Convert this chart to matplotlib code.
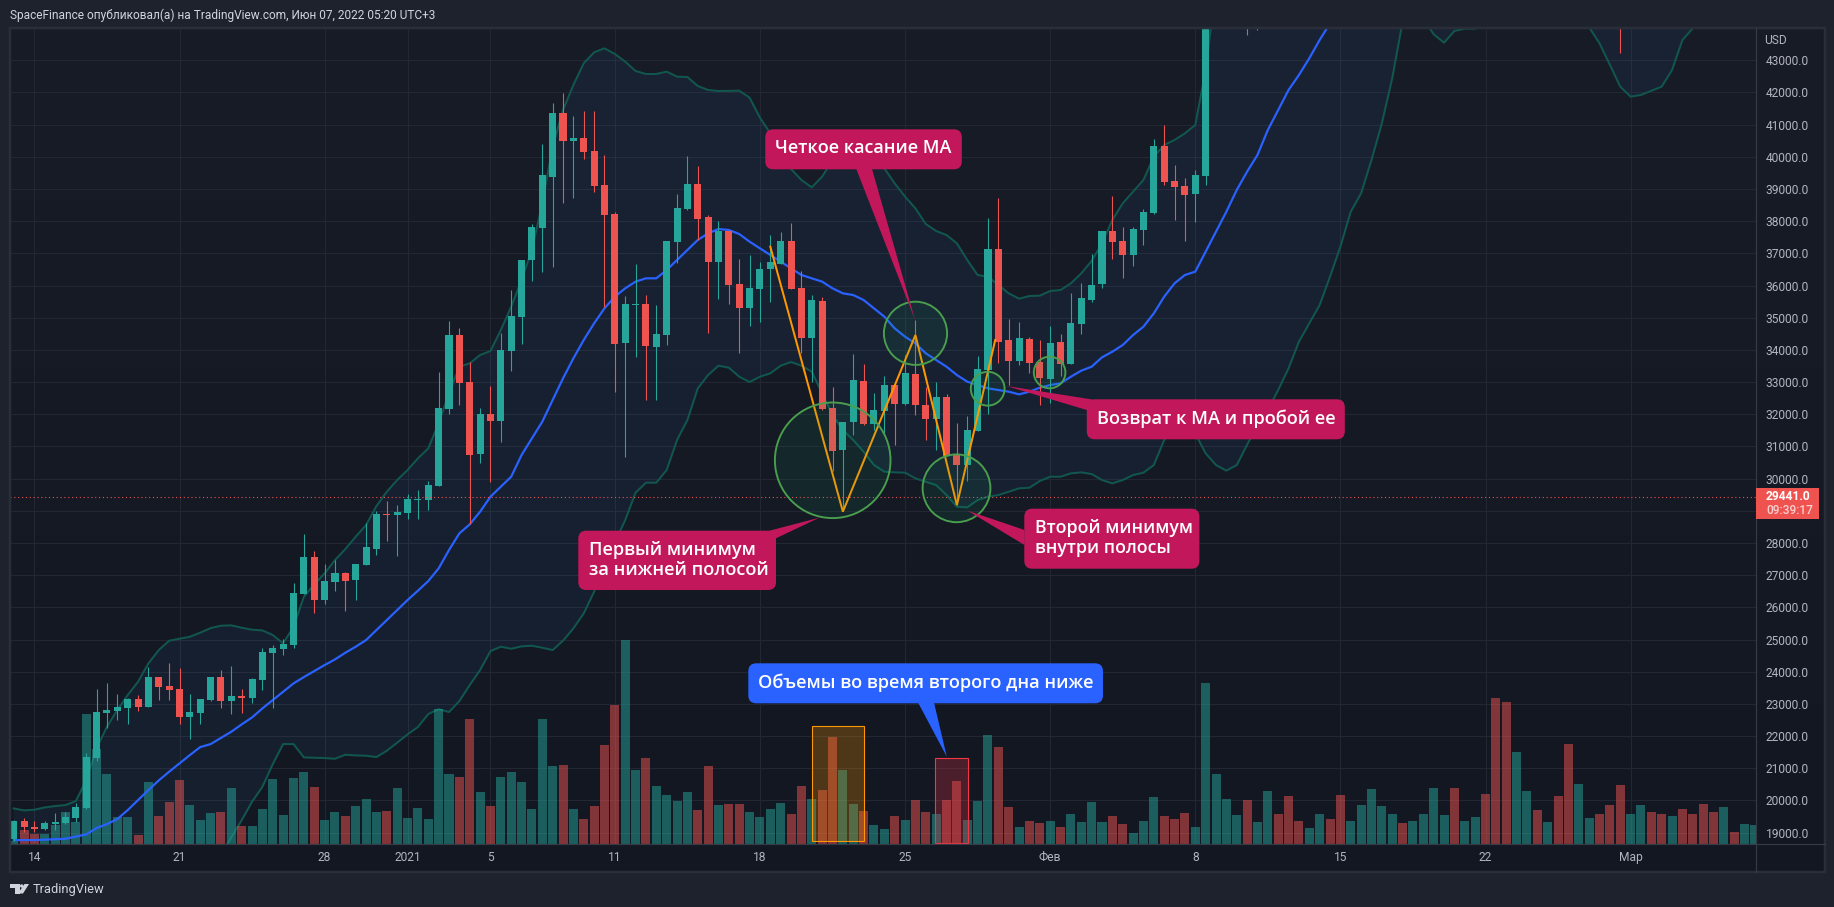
import numpy as np
import matplotlib
matplotlib.use("Agg")
import matplotlib.pyplot as plt
from matplotlib.patches import Circle, FancyBboxPatch, Polygon, Rectangle
from matplotlib.transforms import blended_transform_factory
from matplotlib.colors import to_rgba

W, H = 1834, 907
FONT = "Roboto"
LABEL_FONT = ["Open Sans", "Noto Sans"]

# ---------- data: 12h candles, bar 0 = 14 Dec 2020, first visible bar = -2
first_bar = -2
opens = [18790,19350,19190,19100,19275,19286,19452,19752,21316,22715,22777,22870,23150,22901,23823,23554,23461,22591,
         22715,23119,23823,23088,23243,23181,23741,24580,24704,24828,26413,27563,26227,26786,27066,26849,27315,27812,
         28900,28869,28931,29335,29335,29770,32163,34463,33002,30765,32008,31790,33966,35023,36794,37789,39374,41363,
         40493,40586,40182,39125,38224,34215,35396,35427,34090,34463,37354,38379,39156,38131,36732,37695,36048,35302,
         35893,36515,36670,37385,35924,34370,35520,32194,30889,31759,33034,31697,32101,32909,32319,33251,32288,31853,
         32536,30734,30423,31479,33375,37136,34308,33655,34339,33624,33096,34246,33562,34805,35551,36048,37695,37385,
         36950,37727,38255,40337,39250,39094,38845,39405]
closes = [19350,19170,19110,19286,19317,19472,19783,21337,22746,22798,22891,23150,22901,23823,23523,23430,22591,22746,
          23150,23823,23088,23243,23181,23772,24611,24735,24859,26445,27563,26227,26817,27066,26817,27346,27874,28900,
          28869,28962,29366,29366,29801,32194,34463,32971,30734,32008,31790,33997,35054,36794,37820,39436,41363,40493,
          40586,40151,39094,38193,34184,35427,35427,34121,34494,37385,38410,39156,38068,36732,37695,36017,35302,35924,
          36515,36732,37385,35893,34370,35551,32163,30858,31759,33065,31697,32132,32909,32319,33282,32288,31853,32536,
          30703,30423,31511,33407,37136,34246,33655,34370,33593,33127,34215,33562,34836,35613,36017,37695,37354,36950,
          37758,38286,40337,39218,39063,38814,39436,46000]
highs = [19390,19440,19348,19348,19597,19638,19907,21461,23461,23637,23305,23181,23274,24134,23823,24269,24103,23305,
         23150,23823,24051,24176,23461,23803,24735,24828,25004,26755,28278,27750,27346,27470,27097,27346,28620,28993,
         29304,29180,29522,29646,29925,33313,34898,34681,33624,32194,32878,34525,35862,36794,37913,40399,41674,41985,
         41270,41425,41425,40058,38286,35675,36670,35706,35396,37385,38845,40027,39716,38193,38006,37727,36825,36950,
         36732,37571,37664,37944,36452,35706,35644,32847,31759,33873,33562,32661,33189,32909,33842,34929,32847,33002,
         32630,31728,31946,33810,38100,38721,34960,34867,34401,34308,34743,34494,35769,36079,36981,37695,38783,37820,
         37820,38379,40555,40990,39747,39343,39591,46500]
lows = [18750,19030,19027,19079,19079,19265,19317,19721,21223,22249,22497,22373,22777,22901,23119,23119,22373,21907,
        22373,23088,22870,22684,22715,23026,23430,22870,24518,24735,26413,25823,26103,26507,25885,26227,27315,27626,
        28061,27594,28744,28744,29024,29770,32008,32288,28579,30495,29905,31137,33344,34184,36142,36421,36577,38566,
        38721,39933,38908,35344,32692,30671,33779,32443,32443,34152,36701,38348,37416,34525,35582,35427,33904,34743,
        34867,35489,36670,35893,33904,33002,32132,30236,29024,31355,31666,31511,31407,31044,32288,31977,31200,30889,
        30703,29180,29926,31479,32008,33593,32909,33531,33282,32288,32350,33189,33562,34494,35489,35924,36825,36235,
        36608,37260,38224,39125,38037,37385,37975,39125]

# wicks of bars whose bodies are above the visible range
off_bars = [117, 118, 152, 153]
off_lows = [43787, 43940, 43995, 43218]
off_dirs = "rgrr"

volumes = [11,43,31,31,58,97,67,391,286,211,
           82,82,28,187,85,127,193,118,73,94,
           97,169,55,55,106,196,88,199,217,172,
           73,97,85,115,136,97,100,169,79,109,
           76,406,211,202,376,157,115,202,217,187,
           106,376,235,238,106,76,115,298,418,613,
           223,259,175,148,130,157,103,235,118,121,
           121,97,82,106,124,91,175,136,163,322,
           223,121,100,58,46,85,73,133,97,91,
           133,190,73,130,328,292,112,52,70,64,
           70,52,91,67,127,67,85,61,34,70,
           142,85,76,94,52,484,211,136,88,133,
           67,160,91,145,70,49,91,76,148,70,
           118,166,115,91,64,70,91,169,88,169,
           70,82,151,439,427,277,160,103,67,145,
           301,181,79,91,118,178,91,118,97,91,
           85,106,91,121,97,112,37,61,58]
VOL_SCALE_MAX = 2449
vol_dirs = ("grrggggggg" "ggrgrrrggg" "rgrggggggr" "ggrgggrggg" "gggrrgrggg" "gggrgrrrrg"
            "grggggrrgr" "rggggrrgrr" "ggrggrgrrg" "rrgggrrgrr" "grggggrrgg" "grrrgggggr"
            "ggrrrggrrg" "ggggrggggr" "ggrrrggrgr" "rggrrrggrr" "grrrrgrgg")

ma_idx = [-2,0,3,5,6,7,8,9,10,11,12,13,14,15,16,17,19,20,21,22,23,24,25,26,27,28,29,30,31,32,33,34,35,36,37,38,39,40,41,42,43,44,45,46,47,48,49,50,51,52,53,54,55,
          56,57,58,59,60,61,62,63,64,65,66,67,68,69,70,
          71,72,73,74,75,76,77,78,79,80,81,82,83,84,85,86,87,88,89,90,91,92,93,94,95,96,97,98,99,100,101,102,103,104,105,106,107,
          108,109,110,111,112,113,114,115,116,117,118,119,120,121,122,123,124,125]
ma_vals = [18768,18768,18809,18944,19141,19265,19420,19700,20011,20322,20622,20892,21151,21410,21658,21751,22135,22363,22580,22860,
           23119,23378,23637,23834,24020,24207,24383,24590,24777,24984,25295,25605,25916,26227,26517,26817,27211,27781,28299,28579,
           28972,29439,29749,30060,30733,31252,31770,32443,33116,33738,34308,34826,35292,
           35655,35914,36121,36225,36225,36483,36794,37105,37416,37623,37758,37727,37602,
           37364,37157,36950,36742,36535,36328,36225,36121,35914,35758,35706,35551,35292,35033,34670,34411,34204,33893,33686,33479,
           33220,33013,32909,32806,32754,32702,32619,32702,32826,32909,32961,33168,33355,33479,33769,33945,34152,34463,34722,35137,
           35655,36069,36328,36432,37053,37675,38296,38970,39540,40058,40835,41456,42078,42544,43062,43632,44150]

upper_idx = list(range(-2, 115)) + [166]
upper_vals = [19752,19690,19711,19783,19825,19856,19980,20633,21617,22290,22808,23274,23689,24259,24673,24963,25025,25087,25212,
              25357,25429,25440,25367,25305,25284,25139,24880,25398,26330,26714,27056,27470,27812,28195,28558,29148,29594,29957,
              30267,30630,30941,31718,32650,33479,33582,33842,33966,34619,35344,36172,37105,38555,40317,41456,42233,42907,43249,
              43372,43196,42958,42668,42575,42575,42647,42492,42481,42202,42077,42046,42050,42057,41839,41218,40730,40161,39622,
              39280,39052,39384,39900,40316,40500,40500,40150,39643,39177,38763,38400,37913,37695,37571,37312,36794,36328,36276,
              36017,35758,35592,35675,35686,35831,35862,36069,36380,36763,37312,38037,38555,38918,39281,40006,40368,40524,40731,
              40990,42699,45300,50000]

lower_idx = [-2] + list(range(18, 140)) + [140,145,149,150,151,152,153,154,155,156,157,158,159,160,161,166]
lower_vals = [17500,18323,18851,19389,19959,20425,21130,21752,21752,21337,21327,21316,21296,21420,21399,21389,21348,21544,21793,
              22052,22280,22684,22839,22746,23088,23585,24051,24642,24777,24714,24787,24808,24746,24673,24963,25346,25813,26486,
              27287,28014,28713,29563,29874,29874,30267,31200,31821,32805,33220,33510,33448,33168,33002,33168,33272,33510,33624,
              33510,33324,32650,31977,31511,31200,30837,30423,30216,30195,30185,30008,29905,29801,29490,29128,29107,29335,29439,
              29490,29594,29698,29718,29926,30060,30060,30164,30195,30143,29957,29853,29957,30112,30185,30423,31200,31700,31800,
              31400,30786,30423,30247,30423,31050,31666,32132,32754,33427,34256,34826,35396,36276,37209,38296,38866,39902,41042,
              42440,44200,44500,44300,43808,43548,43911,43984,43984,44300,45500,44400,44025,43528,42860,42181,41870,41922,42050,
              42181,42700,43632,43994,44500,46000]

zigzag_idx = [71, 78, 85, 89, 92.7]
zigzag_vals = [37209, 28973, 34463, 29180, 34308]

last_price = 29441.0
price_ticks = list(range(19000, 44000, 1000))
time_ticks = [0, 14, 28, 36, 44, 56, 70, 84, 98, 112, 126, 140, 154]
time_labels = ["14", "21", "28", "2021", "5", "11", "18", "25", "Фев", "8", "15", "22", "Мар"]

# ---------- styles
UP, DOWN = "#26a69a", "#ef5350"
GRID = "#232733"
BORDER = "#2a2e39"
TXT = "#b2b5be"
PINK, BLUE = "#c2185b", "#2962ff"

def pt(px):
    return px * 0.72

fig = plt.figure(figsize=(W / 100, H / 100), dpi=100, facecolor="#1e222d")

def px_axes(x0, y0, x1, y1, **kw):
    return fig.add_axes([x0 / W, 1 - y1 / H, (x1 - x0) / W, (y1 - y0) / H], **kw)

# background gradient
bg = px_axes(10, 28, 1825, 872, zorder=0)
top_c, bot_c = np.array(to_rgba("#181c27"))[:3], np.array(to_rgba("#131722"))[:3]
grad = np.linspace(0, 1, 256)[:, None, None] * (bot_c - top_c) + top_c
bg.imshow(grad, aspect="auto", extent=[0, 1, 0, 1])
bg.axis("off")

# main pane
P_L, P_R, P_T, P_B = 10, 1756.4, 28, 844.3
ax = px_axes(P_L, P_T, P_R, P_B, zorder=2)
ax.patch.set_visible(False)
bars = np.arange(first_bar, first_bar + len(opens))
px_per_bar = 10.365
for s in ax.spines.values():
    s.set_visible(False)

ax.set_axisbelow(True)
ax.grid(True, color=GRID, lw=pt(1.0))
ax.yaxis.tick_right()
ax.set_yticks(price_ticks)
# the 29000.0 label sits under the last-price tag in the reference, so it stays empty
ax.set_yticklabels(["" if v == 29000 else f"{v:.1f}" for v in price_ticks],
                   fontfamily=FONT, fontsize=pt(12), color=TXT)
ax.set_xticks(time_ticks)
ax.set_xticklabels(time_labels, fontfamily=FONT, fontsize=pt(12), color=TXT)
ax.tick_params(axis="both", length=0)
ax.tick_params(axis="y", pad=pt(9.5))
ax.tick_params(axis="x", pad=pt(7))

# bands
ax.fill(np.r_[upper_idx, lower_idx[::-1]], np.r_[upper_vals, lower_vals[::-1]],
        color="#45a0f6", alpha=0.06, lw=0, zorder=1)
ax.plot(upper_idx, upper_vals, color="#11574f", lw=pt(2), zorder=2)
ax.plot(lower_idx, lower_vals, color="#11574f", lw=pt(2), zorder=2)

# volume overlay
vol_tf = blended_transform_factory(ax.transData, ax.transAxes)
vol_x = first_bar + np.arange(len(volumes))
vol_cols = [UP if d == "g" else DOWN for d in vol_dirs]
ax.bar(vol_x, np.array(volumes) / VOL_SCALE_MAX, width=0.87, color=vol_cols, alpha=0.5, lw=0,
       transform=vol_tf, zorder=3)

# moving average
ax.plot(ma_idx, ma_vals, color=BLUE, lw=pt(2.2), zorder=4)

# candles
o, c, h, l = map(np.array, (opens, closes, highs, lows))
cols = [UP if cc >= oo else DOWN for oo, cc in zip(o, c)]
ax.vlines(bars, l, h, colors=cols, lw=pt(1.1), zorder=5)
ax.bar(bars, np.abs(c - o), bottom=np.minimum(o, c), width=0.68, color=cols, lw=0, zorder=6)
ax.vlines(off_bars, off_lows, 46000, colors=[UP if d == "g" else DOWN for d in off_dirs],
          lw=pt(1.1), zorder=5)

# zigzag and last price
ax.axhline(last_price, color=DOWN, lw=pt(1.1), ls=(0, (1, 2.5)), zorder=7)
ax.plot(zigzag_idx, zigzag_vals, color="#ff9800", lw=pt(2), zorder=8, solid_joinstyle="miter")

ax.set_xlim((P_L - 34.4) / px_per_bar, (P_R - 34.4) / px_per_bar)
ax.set_ylim(43000 - (P_B - 60.3) / 0.03218, 43000 - (P_T - 60.3) / 0.03218)

# overlay in pixel coordinates for the drawing tools and frame
ov = fig.add_axes([0, 0, 1, 1], zorder=5)
ov.set_xlim(0, W)
ov.set_ylim(H, 0)
ov.axis("off")
ov.patch.set_visible(False)

ov.add_patch(Rectangle((10, 27.5), 1815, 844.5, fill=False, ec=BORDER, lw=pt(2.5)))
ov.plot([P_R, P_R], [28, 872], color="#363a45", lw=pt(1.2))
ov.plot([10, 1825], [P_B, P_B], color="#363a45", lw=pt(1.2))

for (cx, cy, r) in [(832.7, 460.3, 57.8), (915.5, 333.3, 31.6), (956.5, 488.3, 33.9),
                    (987.7, 388.7, 16.9), (1049.6, 372.5, 15.8)]:
    ov.add_patch(Circle((cx, cy), r, fc=to_rgba("#13a56e", 0.1), ec="#4a9f4e", lw=pt(1.9)))

ov.add_patch(Rectangle((811.5, 726.3), 52.2, 115, fc=to_rgba("#ff9800", 0.25), ec="#ff9800", lw=pt(1.1)))
ov.add_patch(Rectangle((935.3, 758.3), 32.4, 84.4, fc=to_rgba("#f23645", 0.25), ec="#f23645", lw=pt(1.1)))

def callout(x0, y0, x1, y1, tail, color, text, tx, ty, size=18.2):
    ov.add_patch(Polygon(tail, closed=True, fc=color, ec="none", zorder=10))
    ov.add_patch(FancyBboxPatch((x0, y0), x1 - x0, y1 - y0, boxstyle="round,pad=0,rounding_size=8",
                                fc=color, ec="none", zorder=10))
    ov.text(tx, ty, text, color="white", fontsize=pt(size), family=LABEL_FONT, weight="semibold",
            va="center", ha="left", linespacing=1.12, zorder=11)

callout(765.3, 129.3, 961.8, 169.3, [(856.3, 169), (872, 169), (915.1, 320)], PINK,
        "Четкое касание МА", 775.2, 148.3, size=18)
callout(1086.8, 399.3, 1344.8, 439.3, [(1006.5, 386), (1092.3, 399.5), (1086.8, 410)], PINK,
        "Возврат к МА и пробой ее", 1096.6, 418.3)
callout(1024.3, 508.7, 1199.4, 568.7, [(967.7, 510.7), (1024.5, 530), (1024.5, 545)], PINK,
        "Второй минимум\nвнутри полосы", 1035, 538, size=17.7)
callout(578.3, 530.7, 776, 590, [(819.3, 517.7), (768.3, 531), (776, 538.3)], PINK,
        "Первый минимум\nза нижней полосой", 589, 560)
callout(748.3, 663.3, 1103, 703.3, [(918.3, 703), (934.1, 703), (946.8, 756.7)], BLUE,
        "Объемы во время второго дна ниже", 758.2, 682.7)

# last price label
ov.add_patch(Rectangle((1756, 488), 63, 31, fc=DOWN, ec="none", zorder=10))
ov.text(1766, 496.7, "29441.0", color="white", fontsize=pt(12), family=FONT, weight="bold",
        va="center", zorder=11)
ov.text(1766, 510.7, "09:39:17", color="#fbd0cf", fontsize=pt(12), family=FONT, weight="medium",
        va="center", zorder=11)
ov.text(1764, 41, "USD", color=TXT, fontsize=pt(12), family=FONT, va="center")

# header and footer
ov.text(9.5, 15, "SpaceFinance опубликовал(а) на TradingView.com, Июн 07, 2022 05:20 UTC+3",
        color="#d1d4dc", fontsize=pt(11.95), family=FONT, va="center")
logo = "#d1d4dc"
ov.add_patch(Polygon([(10, 884), (19.5, 884), (19.5, 893.5), (14.5, 893.5), (14.5, 887.5), (10, 887.5)], fc=logo, ec="none"))
ov.add_patch(Circle((21.7, 886), 1.7, fc=logo, ec="none"))
ov.add_patch(Polygon([(18, 893.5), (24.5, 884), (29, 884), (23, 893.5)], fc=logo, ec="none"))
ov.text(33, 889.3, "TradingView", color="#d1d4dc", fontsize=pt(12.9), family=FONT, va="center")

fig.savefig("out.png", dpi=100, facecolor=fig.get_facecolor())
